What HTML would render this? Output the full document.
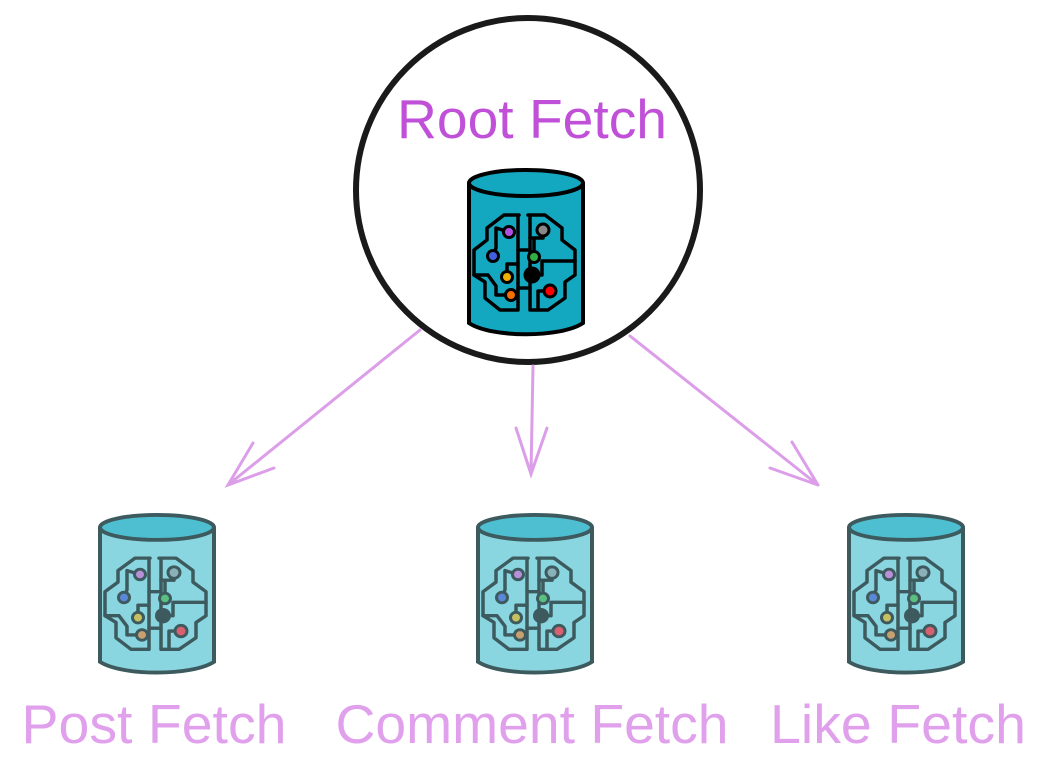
<!DOCTYPE html>
<html><head><meta charset="utf-8"><style>
html,body{margin:0;padding:0;background:#fff;width:1047px;height:776px;overflow:hidden}
text{font-family:"Liberation Sans",sans-serif}
</style></head><body>
<svg width="1047" height="776" viewBox="0 0 1047 776" xmlns="http://www.w3.org/2000/svg">
<defs>
<g id="brain" fill="none" stroke-linejoin="round" stroke-linecap="round">
  <path d="M53,47 L38,47 L21,60 L21,72 L8,82 L8,107 L19,114 L19,130 L34,142 L52,142 L52,47 Z"/>
  <path d="M62,47 L79,47 L96,60 L96,72 L109,82 L109,107 L99,114 L99,130 L82,142 L64,142 L64,47 Z"/>
  <path d="M30,60 L43,64 M30,60 L30,80 L27,88 M8,107 L22,107 L30,118 L30,127 L45,127 M41,109 L41,96 L52,96 M52,120 L64,120 M64,70 L77,70 L77,62 M68,89 L68,72 M66,107 L76,107 L76,93 L109,93 M84,123 L72,123 L72,140 M52,82 L64,82"/>
</g>
</defs>

<circle cx="528" cy="190" r="172" fill="#fff" stroke="#1a1a1a" stroke-width="6"/>
<text x="532" y="138" font-size="55" fill="#c050d8" text-anchor="middle" textLength="270" lengthAdjust="spacingAndGlyphs">Root Fetch</text>

<!-- root cylinder -->
<g transform="translate(466,168)">
  <path d="M3,15 L3,155 C25,170 95,170 117,155 L117,15" fill="#14a8c0" stroke="#000" stroke-width="4"/>
  <ellipse cx="60" cy="15" rx="57" ry="13" fill="#14a8c0" stroke="#000" stroke-width="4"/>
  <use href="#brain" stroke="#000" stroke-width="3.5"/>
  <g stroke="#000" stroke-width="3">
    <circle cx="43" cy="64" r="5.5" fill="#b050e0"/>
    <circle cx="77" cy="62" r="6" fill="#888"/>
    <circle cx="27" cy="88" r="5.5" fill="#4060e0"/>
    <circle cx="68" cy="89" r="5.5" fill="#30b040"/>
    <circle cx="41" cy="109" r="5.5" fill="#f0b000"/>
    <circle cx="66" cy="107" r="7" fill="#000"/>
    <circle cx="45" cy="127" r="5.5" fill="#f07000"/>
    <circle cx="84" cy="123" r="6" fill="#ff0000"/>
  </g>
</g>

<!-- arrows -->
<g stroke="#dc9ee8" stroke-width="3" fill="none" stroke-linecap="round">
  <path d="M420,330 L228,485 M253,443 L228,485 L274,468"/>
  <path d="M533,366 L531,474 M516,428 L531,474 L547,428"/>
  <path d="M630,336 L818,485 M770,468 L818,485 M792,442 L818,485"/>
</g>

<!-- lower cylinders -->
<g id="low1" transform="translate(97,513) scale(1,0.96)">
  <path d="M3,15 L3,155 C25,170 95,170 117,155 L117,15" fill="#8ad6e0" stroke="#3d5a5e" stroke-width="4"/>
  <ellipse cx="60" cy="15" rx="57" ry="13" fill="#4ebfd0" stroke="#3d5a5e" stroke-width="4"/>
  <use href="#brain" stroke="#3d5a5e" stroke-width="3.5"/>
  <g stroke="#3d5a5e" stroke-width="3">
    <circle cx="43" cy="64" r="5.5" fill="#b890d8"/>
    <circle cx="77" cy="62" r="6" fill="#8ab0b8"/>
    <circle cx="27" cy="88" r="5.5" fill="#5a88d8"/>
    <circle cx="68" cy="89" r="5.5" fill="#5ac080"/>
    <circle cx="41" cy="109" r="5.5" fill="#c8c060"/>
    <circle cx="66" cy="107" r="6.5" fill="#3d5a5e"/>
    <circle cx="45" cy="127" r="5.5" fill="#c8a070"/>
    <circle cx="84" cy="123" r="6" fill="#d86070"/>
  </g>
</g>
<use href="#low1" transform="translate(378,0)"/>
<use href="#low1" transform="translate(749,0)"/>

<g font-size="55" fill="#e0a0ec" text-anchor="middle">
  <text x="154" y="743" textLength="265" lengthAdjust="spacingAndGlyphs">Post Fetch</text>
  <text x="532" y="743" textLength="393" lengthAdjust="spacingAndGlyphs">Comment Fetch</text>
  <text x="898" y="743" textLength="256" lengthAdjust="spacingAndGlyphs">Like Fetch</text>
</g>
</svg>
</body></html>
